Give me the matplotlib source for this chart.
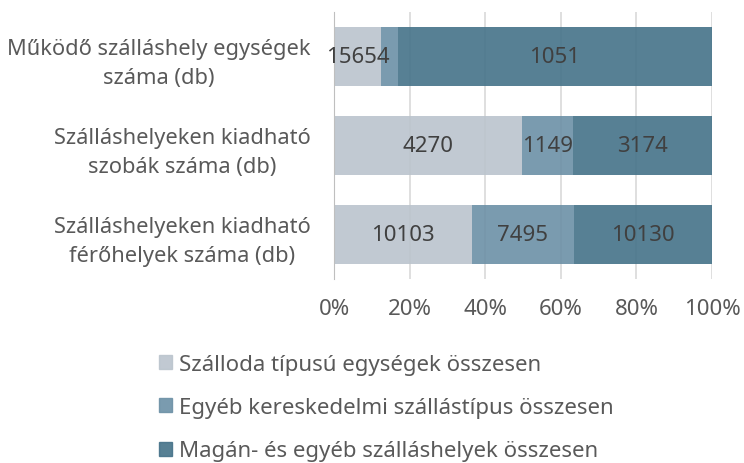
import matplotlib.pyplot as plt
from matplotlib.patches import Patch
import numpy as np

plt.rcParams['font.family'] = ['Noto Sans', 'DejaVu Sans']

categories = ["Működő szálláshely egységek\nszáma (db)",
              "Szálláshelyeken kiadható\nszobák száma (db)",
              "Szálláshelyeken kiadható\nférőhelyek száma (db)"]
series = ["Szálloda típusú egységek összesen",
          "Egyéb kereskedelmi szállástípus összesen",
          "Magán- és egyéb szálláshelyek összesen"]

# shares (%)
hotel_pct = [12.4, 49.7, 36.4]
other_pct = [4.5, 13.4, 27.0]
private_pct = [83.1, 36.9, 36.6]

# data labels as printed on the chart
hotel_lbl = ["15654", "4270", "10103"]
other_lbl = ["", "1149", "7495"]
private_lbl = ["1051", "3174", "10130"]

colors = ["#bbc4cd", "#6c90a6", "#457289"]

fig = plt.figure(figsize=(7.44, 4.64), dpi=100)
ax = fig.add_axes([334 / 744, 1 - 280 / 464, 378 / 744, 267 / 464])

y = np.arange(len(categories))
left = np.zeros(len(categories))
for pct, lbl, col in zip([hotel_pct, other_pct, private_pct],
                         [hotel_lbl, other_lbl, private_lbl], colors):
    pct = np.array(pct)
    ax.barh(y, pct, left=left, height=0.66, color=col, alpha=0.9, zorder=1)
    for i in range(len(y)):
        if lbl[i]:
            ax.text(left[i] + pct[i] / 2, y[i], lbl[i], ha='center', va='center',
                    fontsize=16, color='#404040', zorder=3)
    left += pct

ax.set_xlim(0, 100)
ax.set_ylim(2.5, -0.5)
ax.set_xticks(np.arange(0, 101, 20))
ax.set_xticklabels([f"{v}%" for v in range(0, 101, 20)])
ax.set_yticks(y)
ax.set_yticklabels(categories, linespacing=1.5, multialignment='center')
ax.grid(axis='x', color='#d9d9d9', linewidth=1.2, zorder=0)
ax.set_axisbelow(True)
for s in ['top', 'right', 'bottom']:
    ax.spines[s].set_visible(False)
ax.spines['left'].set_color('#bfbfbf')
ax.tick_params(axis='both', length=0, labelcolor='#595959')
ax.tick_params(axis='x', labelsize=16, pad=13.5)
ax.tick_params(axis='y', labelsize=15.7, pad=17)

handles = [Patch(color=c, alpha=0.9) for c in colors]
fig.legend(handles, series, loc='upper left', bbox_to_anchor=(139 / 744, 1 - 335 / 464),
           frameon=False, fontsize=16, labelcolor='#595959', handlelength=0.6,
           handleheight=0.6, handletextpad=0.3, labelspacing=1.0)

fig.savefig("out.png", dpi=100)
